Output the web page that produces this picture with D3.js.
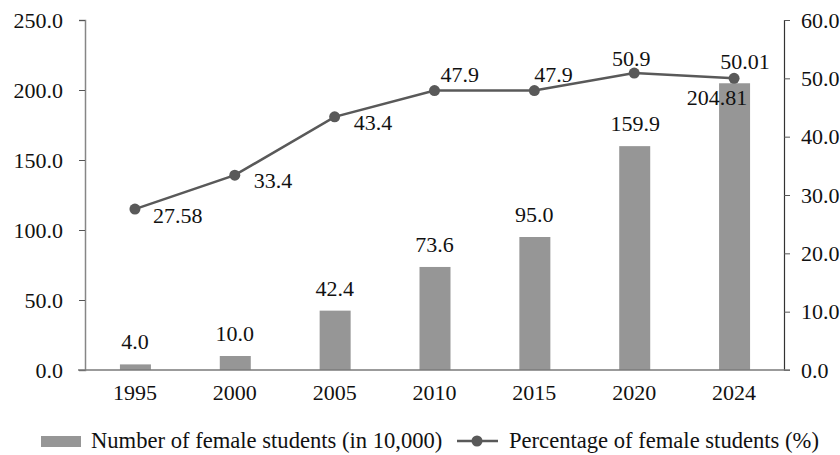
<!DOCTYPE html>
<html><head><meta charset="utf-8">
<script src="https://cdn.jsdelivr.net/npm/d3@7"></script>
<style>body{margin:0;background:#fff}svg{display:block}</style>
</head><body>
<svg id="c" width="840" height="455" font-family="Liberation Serif"></svg>
<script>
const years = ["1995","2000","2005","2010","2015","2020","2024"];
const students = [4.0, 10.0, 42.4, 73.6, 95.0, 159.9, 204.81];
const studentLabels = ["4.0","10.0","42.4","73.6","95.0","159.9","204.81"];
const percent = [27.58, 33.4, 43.4, 47.9, 47.9, 50.9, 50.01];
const percentLabels = ["27.58","33.4","43.4","47.9","47.9","50.9","50.01"];
const leftTicks = [0,50,100,150,200,250];
const rightTicks = [0,10,20,30,40,50,60];
const legendLabels = ["Number of female students (in 10,000)","Percentage of female students (%)"];

const svg = d3.select("#c");
const L = 85, R = 784, T = 20, B = 370;
const fs = 22;
const x = d3.scaleBand().domain(years).range([L, R]);
const yL = d3.scaleLinear().domain([0,250]).range([B, T]);
const yR = d3.scaleLinear().domain([0,60]).range([B, T]);

// bars
const bw = 31;
svg.selectAll("rect.bar").data(students).enter().append("rect")
  .attr("x",(d,i)=>x(years[i])+x.bandwidth()/2-bw/2+0.5)
  .attr("y",d=>yL(d)).attr("width",bw).attr("height",d=>B-yL(d))
  .attr("fill","#969696");

// axes
const gl = svg.append("g").attr("transform",`translate(${L},0)`)
  .call(d3.axisLeft(yL).tickValues(leftTicks).tickSize(6).tickPadding(16).tickFormat(d3.format(".1f")));
gl.select(".domain").attr("stroke","#868686").attr("stroke-width",1.5);
gl.selectAll(".tick line").attr("stroke","#555");

const gr = svg.append("g").attr("transform",`translate(${R},0)`)
  .call(d3.axisRight(yR).tickValues(rightTicks).tickSize(6).tickPadding(11).tickFormat(d3.format(".1f")));
gr.select(".domain").attr("stroke","#333").attr("stroke-width",1.2);
gr.selectAll(".tick line").attr("stroke","#555");

const gb = svg.append("g").attr("transform",`translate(0,${B})`)
  .call(d3.axisBottom(x).tickSize(0).tickPadding(14));
gb.select(".domain").remove();
svg.append("line").attr("x1",L-7).attr("x2",R+6).attr("y1",B).attr("y2",B)
  .attr("stroke","#7a7a7a").attr("stroke-width",1.5);

// bar labels
const barOff = [[0,-15],[0,-15],[0,-15],[0,-15],[0,-15],[1,-15],[-17,22]];
svg.selectAll("text.bl").data(students).enter().append("text")
  .attr("x",(d,i)=>x(years[i])+x.bandwidth()/2+barOff[i][0])
  .attr("y",(d,i)=>yL(d)+barOff[i][1])
  .attr("text-anchor","middle")
  .text((d,i)=>studentLabels[i]);

// line
const cx = i => x(years[i])+x.bandwidth()/2;
const line = d3.line().x((d,i)=>cx(i)).y(d=>yR(d));
svg.append("path").datum(percent).attr("d",line).attr("fill","none")
  .attr("stroke","#595959").attr("stroke-width",2.5);
svg.selectAll("circle.pt").data(percent).enter().append("circle")
  .attr("cx",(d,i)=>cx(i)).attr("cy",d=>yR(d)).attr("r",5.5).attr("fill","#595959");

const lineOff = [[18,14,"start"],[19,13,"start"],[19,13,"start"],[6,-9,"start"],[0,-9,"start"],[-3,-7,"middle"],[11,-9,"middle"]];
svg.selectAll("text.ll").data(percent).enter().append("text")
  .attr("x",(d,i)=>cx(i)+lineOff[i][0]).attr("y",(d,i)=>yR(d)+lineOff[i][1])
  .attr("text-anchor",(d,i)=>lineOff[i][2])
  .text((d,i)=>percentLabels[i]);

svg.selectAll("text").attr("font-family","Liberation Serif").attr("font-size",fs).attr("fill","#111");

// legend
const lg = svg.append("g").attr("font-family","Liberation Serif").attr("font-size",22.6).attr("fill","#111");
lg.append("rect").attr("x",41).attr("y",436).attr("width",40).attr("height",11).attr("fill","#969696");
lg.append("text").attr("x",91).attr("y",448).text(legendLabels[0]);
lg.append("line").attr("x1",457).attr("x2",498).attr("y1",441).attr("y2",441).attr("stroke","#595959").attr("stroke-width",2.5);
lg.append("circle").attr("cx",477).attr("cy",441).attr("r",5.5).attr("fill","#595959");
lg.append("text").attr("x",509).attr("y",448).text(legendLabels[1]);
</script>
</body></html>
